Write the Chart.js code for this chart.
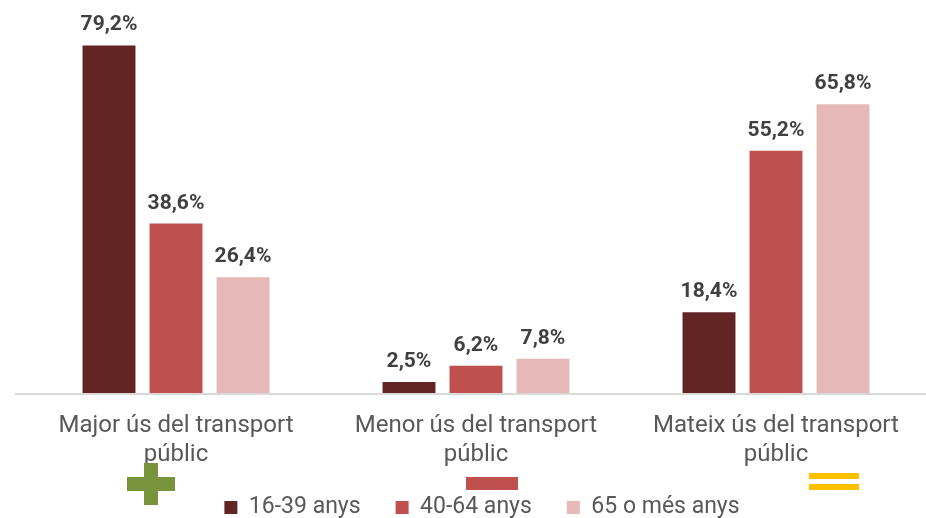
<!DOCTYPE html>
<html>
<head>
<meta charset="utf-8">
<script src="https://cdn.jsdelivr.net/npm/chart.js@4"></script>
<style>
  html, body { margin: 0; padding: 0; background: #fff; }
  #wrap { width: 926px; height: 518px; }
</style>
</head>
<body>
<div id="wrap"><canvas id="chart1" width="926" height="518"></canvas></div>
<script>
// categories and series
var categories = [['Major ús del transport', 'públic'], ['Menor ús del transport', 'públic'], ['Mateix ús del transport', 'públic']];
var seriesNames = ['16-39 anys', '40-64 anys', '65 o més anys'];
var young = [79.2, 2.5, 18.4];
var middle = [38.6, 6.2, 55.2];
var older = [26.4, 7.8, 65.8];

var colors = ['#632523', '#C0504D', '#E6B9B8'];

// percent labels above the bars
var valueLabels = {
    id: 'valueLabels',
    afterDatasetsDraw: function(chart) {
        var ctx = chart.ctx;
        ctx.save();
        ctx.font = 'bold 21px Roboto';
        ctx.fillStyle = '#404040';
        ctx.textAlign = 'center';
        ctx.textBaseline = 'alphabetic';
        chart.data.datasets.forEach(function(ds, i) {
            chart.getDatasetMeta(i).data.forEach(function(bar, j) {
                ctx.fillText(ds.data[j].toFixed(1).replace('.', ',') + '%', bar.x, bar.y - 15);
            });
        });
        ctx.restore();
    }
};

// axis line + the plus / minus / equal signs under each group
var extras = {
    id: 'extras',
    afterLayout: function(chart) {
        // x labels overflow the shortened axis box, don't clip them
        chart.scales.x.bottom = chart.height;
        // legend sits a bit right of centre
        chart.legend.left += 6;
        chart.legend.right += 6;
    },
    afterDraw: function(chart) {
        var ctx = chart.ctx, x = chart.scales.x, area = chart.chartArea;
        ctx.save();
        ctx.fillStyle = '#D9D9D9';
        ctx.fillRect(15, area.bottom, chart.width - 15, 2);

        // plus
        var c0 = x.getPixelForValue(0) - 25;
        ctx.fillStyle = '#77933C';
        ctx.fillRect(c0 - 24, 477, 48, 14);
        ctx.fillRect(c0 - 7, 463, 14, 42);
        // minus
        var c1 = x.getPixelForValue(1) + 16;
        ctx.fillStyle = '#C0504D';
        ctx.fillRect(c1 - 26, 477, 52, 13);
        // equal
        var c2 = x.getPixelForValue(2) + 58;
        ctx.fillStyle = '#FFC000';
        ctx.fillRect(c2 - 25, 473, 50, 6);
        ctx.fillRect(c2 - 25, 484, 50, 6);
        ctx.restore();
    }
};

var ctx1 = document.getElementById('chart1').getContext('2d');
var chart = new Chart(ctx1, {
    type: 'bar',
    data: {
        labels: categories,
        datasets: [
            { label: seriesNames[0], data: young, backgroundColor: colors[0] },
            { label: seriesNames[1], data: middle, backgroundColor: colors[1] },
            { label: seriesNames[2], data: older, backgroundColor: colors[2] }
        ]
    },
    options: {
        responsive: false,
        animation: false,
        categoryPercentage: 0.67,
        barPercentage: 0.79,
        layout: { padding: { left: 26, right: 0, top: 20, bottom: -11 } },
        plugins: {
            legend: {
                position: 'bottom',
                labels: {
                    font: { family: 'Roboto', size: 23 },
                    color: '#595959',
                    boxWidth: 13,
                    boxHeight: 13,
                    padding: 35
                }
            },
            tooltip: { enabled: false }
        },
        scales: {
            x: {
                grid: { display: false },
                border: { display: false },
                ticks: {
                    font: { family: 'Roboto', size: 24, lineHeight: 1.2 },
                    color: '#595959',
                    padding: 11,
                    maxRotation: 0
                },
                afterFit: function(scale) { scale.height = 68; }
            },
            y: { display: false, min: 0, max: 85 }
        }
    },
    plugins: [valueLabels, extras]
});
</script>
</body>
</html>
